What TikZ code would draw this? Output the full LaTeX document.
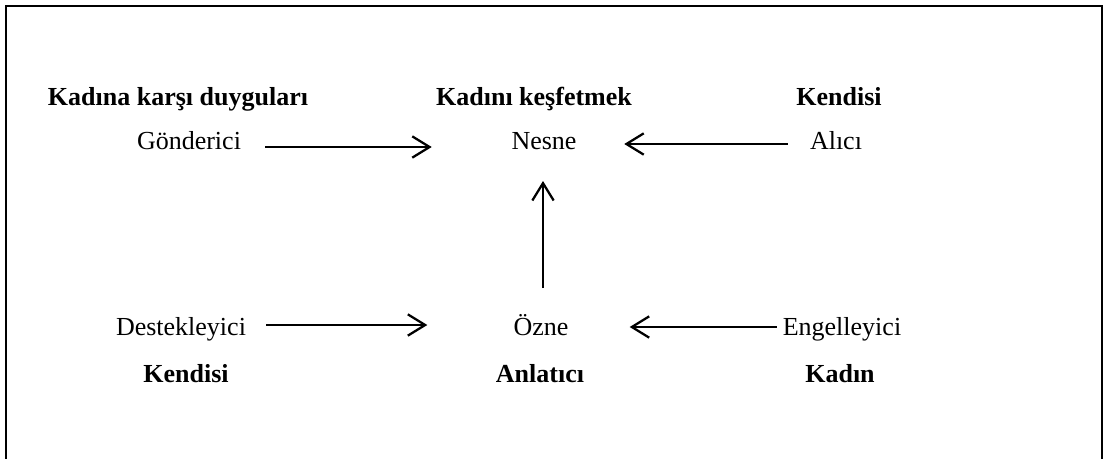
\documentclass[tikz,border=0pt]{standalone}
\usepackage{fontspec}
\setmainfont{Liberation Serif}
\usetikzlibrary{arrows.meta,calc}
\begin{document}
\begin{tikzpicture}[x=0.75pt,y=-0.75pt,
  lbl/.style={inner sep=0pt,anchor=base,font=\fontsize{19.5}{23}\selectfont},
  blbl/.style={lbl,font=\fontsize{19.5}{23}\selectfont\bfseries},
  arr/.style={line width=1.7pt,-{Straight Barb[length=13pt,width=16pt,line width=1.7pt]}},
  frame/.style={line width=1.7pt}]
\useasboundingbox (0,0) rectangle (1104,458);
\draw[frame] (6,460) -- (6,6) -- (1102,6) -- (1102,460);
% row 1
\node[blbl] (t1) at (178,105) {Kadına karşı duyguları};
\node[blbl] (t2) at (534,105) {Kadını keşfetmek};
\node[blbl] (t3) at (839,105) {Kendisi};
% row 2
\node[lbl] (gond) at (189,149) {Gönderici};
\node[lbl] (nesne) at (544,149) {Nesne};
\node[lbl] (alici) at (836,149) {Alıcı};
% row 3
\node[lbl] (dest) at (181,335) {Destekleyici};
\node[lbl] (ozne) at (541,335) {Özne};
\node[lbl] (eng) at (842,335) {Engelleyici};
% row 4
\node[blbl] (b1) at (186,382) {Kendisi};
\node[blbl] (b2) at (540,382) {Anlatıcı};
\node[blbl] (b3) at (840,382) {Kadın};
% arrows
\draw[arr] ($(gond.base east)+(24,-2)$) -- ($(nesne.base west)+(-79.5,-2)$);
\draw[arr] ($(alici.base west)+(-22,-5)$) -- ($(nesne.base east)+(47.5,-5)$);
\draw[arr] ($(dest.base east)+(20,-10)$) -- ($(ozne.base west)+(-86,-10)$);
\draw[arr] ($(eng.base west)+(-6,-8)$) -- ($(ozne.base east)+(61,-8)$);
\draw[arr] ($(ozne.base)+(2,-47)$) -- ($(nesne.base)+(-1,32)$);
\end{tikzpicture}
\end{document}
